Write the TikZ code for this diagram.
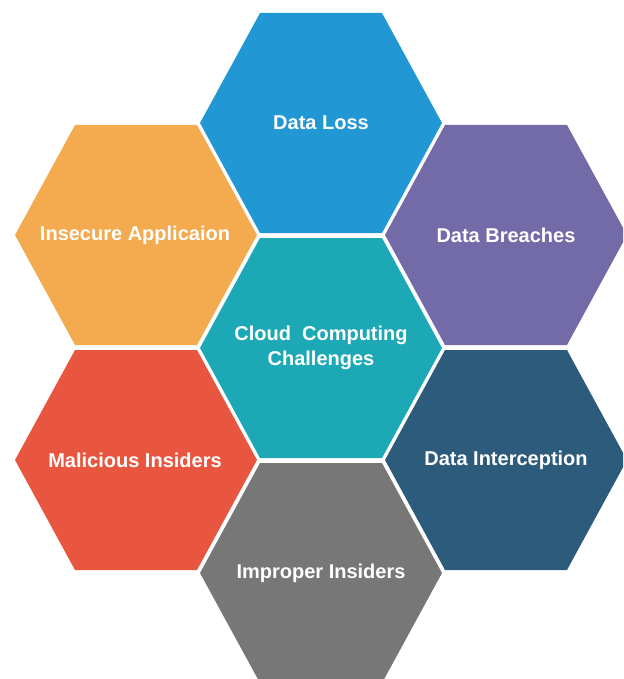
\documentclass[tikz,border=0pt]{standalone}
\usepackage{fontspec}
\setmainfont{Liberation Sans}

\definecolor{lossblue}{RGB}{33,151,211}
\definecolor{appsorange}{RGB}{244,170,79}
\definecolor{breachpurple}{RGB}{115,107,168}
\definecolor{cloudteal}{RGB}{28,168,180}
\definecolor{insiderred}{RGB}{232,86,64}
\definecolor{interceptnavy}{RGB}{45,91,123}
\definecolor{impropergray}{RGB}{119,119,119}

% one cell of the honeycomb, centred at (#1,#2)
\newcommand{\honeycell}[3]{%
  \fill [#3] (#1,#2) ++(-121,0) -- ++(60,-110) -- ++(122,0)
    -- ++(60,110) -- ++(-60,110) -- ++(-122,0) -- cycle;}

\begin{document}
\begin{tikzpicture}[%
      x=1pt, y=-1pt,
      cell/.style={text=white, align=center,
        font=\fontsize{20}{25}\selectfont\bfseries},
      ]
      \useasboundingbox (0,0) rectangle (623,679);
      \clip (0,0) rectangle (623,679);

      \honeycell{321}{123}{lossblue}
      \honeycell{136}{235}{appsorange}
      \honeycell{506}{235}{breachpurple}
      \honeycell{321}{348}{cloudteal}
      \honeycell{136}{460}{insiderred}
      \honeycell{506}{460}{interceptnavy}
      \honeycell{321}{573}{impropergray}

      \node [cell] (loss) at (321,123) {Data Loss};
      \node [cell] (apps) at (135,235) {Insecure Applicaion};
      \node [cell] (breach) at (506,235) {Data Breaches};
      \node [cell] (cloud) at (321,348) {Cloud~ Computing\\Challenges};
      \node [cell] (malicious) at (135,460) {Malicious Insiders};
      \node [cell] (intercept) at (506,460) {Data Interception};
      \node [cell] (improper) at (321,573) {Improper Insiders};
\end{tikzpicture}
\end{document}
